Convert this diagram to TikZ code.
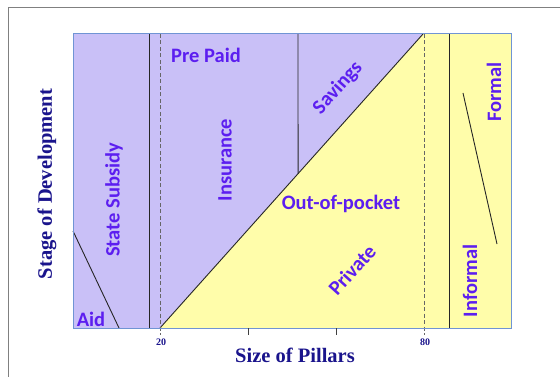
\documentclass[tikz,border=0pt]{standalone}
\usepackage{fontspec}
\setmainfont{Liberation Serif}
\newfontfamily\zonefont{Carlito}
\usetikzlibrary{calc}
\definecolor{publicfill}{RGB}{201,192,247}
\definecolor{privatefill}{RGB}{255,253,170}
\definecolor{zonetext}{RGB}{92,30,240}
\definecolor{axisnavy}{RGB}{26,20,140}
\definecolor{plotedge}{RGB}{112,148,212}
\definecolor{framegray}{RGB}{128,128,128}
\begin{document}
\begin{tikzpicture}[x=1pt,y=-1pt,
  zone/.style={font=\zonefont\bfseries\fontsize{20.5}{22}\selectfont, text=zonetext, inner sep=0pt},
  axislabel/.style={font=\bfseries\fontsize{20.5}{22}\selectfont, text=axisnavy, inner sep=0pt},
  ticklabel/.style={font=\bfseries\fontsize{10}{12}\selectfont, text=axisnavy, inner sep=0pt},
  divider/.style={black!85, line width=0.9pt},
  marker/.style={black!60, dash pattern=on 4pt off 2.5pt, line width=1pt},
  tickmark/.style={black!75, line width=1pt},
]
\useasboundingbox (0,0) rectangle (560,377);
\fill[white] (0,0) rectangle (560,377);

% outer frame (top and left edges)
\coordinate (framebl) at (8.5,377);
\coordinate (frametl) at (8.5,7.5);
\coordinate (frametr) at (560,7.5);
\draw[framegray, line width=1.6pt] (framebl) -- (frametl) -- (frametr);

% plot area
\coordinate (tl) at (73,34);
\coordinate (tr) at (511,34);
\coordinate (br) at (511,328);
\coordinate (bl) at (73,328);
\coordinate (diagfoot) at (160,328);
\coordinate (diagtop) at (423,34);

\fill[publicfill] (tl) rectangle (br);
\fill[privatefill] (diagfoot) -- (diagtop) -- (tr) -- (br) -- cycle;

% dividers
\coordinate (subsidytop) at (149,34);
\coordinate (subsidybot) at (149,328);
\coordinate (savetop) at (298,34);
\coordinate (savebot) at ($(diagfoot)!0.525!(diagtop)$);
\coordinate (informaltop) at (449,34);
\coordinate (informalbot) at (449,328);
\coordinate (aidtop) at (73,231);
\coordinate (aidbot) at (119,328);
\coordinate (formaltop) at (463,93);
\coordinate (formalbot) at (497,244);

\draw[divider] (subsidytop) -- (subsidybot);
\draw[divider] (savetop) -- (savebot);
\draw[divider] (informaltop) -- (informalbot);
\draw[divider] (aidtop) -- (aidbot);
\draw[divider] (formaltop) -- (formalbot);
\draw[divider] (diagfoot) -- (diagtop);

% dashed markers at 20 and 80
\coordinate (m20top) at (160,34);
\coordinate (m20bot) at (160,335);
\coordinate (m80top) at (424,34);
\coordinate (m80bot) at (424,335);
\draw[marker] (m20top) -- (m20bot);
\draw[marker] (m80top) -- (m80bot);

% border
\draw[plotedge, line width=1pt] (tl) rectangle (br);

% ticks
\coordinate (t40top) at (248,328);
\coordinate (t40bot) at (248,335);
\coordinate (t60top) at (336,328);
\coordinate (t60bot) at (336,335);
\draw[tickmark] (t40top) -- (t40bot);
\draw[tickmark] (t60top) -- (t60bot);

\node[ticklabel] (lab20) at (161,342.5) {20};
\node[ticklabel] (lab80) at (425,342.5) {80};

% axis labels
\node[axislabel] (xaxis) at (295,355) {Size of Pillars};
\node[axislabel, rotate=90] (yaxis) at (47,184) {Stage of Development};

% zone labels
\node[zone] (prepaid) at (206,55) {Pre Paid};
\node[zone, rotate=90] (subsidy) at (114,200) {State Subsidy};
\node[zone, rotate=90] (insurance) at (225,160) {Insurance};
\node[zone, rotate=48] (savings) at (338,88) {Savings};
\node[zone] (oop) at (341,204) {Out-of-pocket};
\node[zone, rotate=48] (private) at (352,270) {Private};
\node[zone, rotate=90] (informal) at (470,281) {Informal};
\node[zone, rotate=90] (formal) at (494,92) {Formal};
\node[zone] (aid) at (91,319) {Aid};
\end{tikzpicture}
\end{document}
